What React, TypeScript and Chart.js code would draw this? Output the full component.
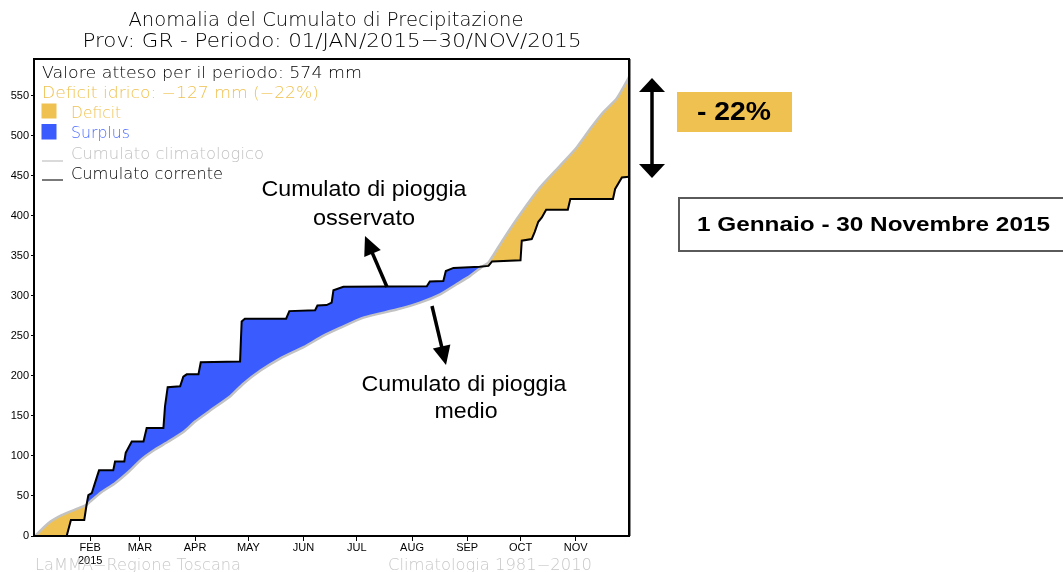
import React, { useEffect, useRef } from 'react';
import { Chart, registerables } from 'chart.js';

Chart.register(...registerables);

// ---- data ----
const monthTickDays = [31, 59, 90, 120, 151, 181, 212, 243, 273, 304];
const monthTickLabels: (string | string[])[] = [['FEB', '2015'], 'MAR', 'APR', 'MAY', 'JUN', 'JUL', 'AUG', 'SEP', 'OCT', 'NOV'];
const yTickValues = [0, 50, 100, 150, 200, 250, 300, 350, 400, 450, 500, 550];

// Cumulato corrente (observed), day of year -> mm
const currentDays = [0, 17.8, 20.2, 27.7, 29, 30, 31.9, 33.7, 36, 44, 45, 50.2, 51, 54.4, 61, 62.8, 72.2, 73.1, 74.6, 81.6, 83.4, 85.3, 91.9, 93.2, 115.3, 116.2, 118, 141.2, 143, 157.5, 158.8, 164, 166.8, 167.8, 173.4, 220.3, 222, 229.6, 231, 235.3, 250, 255, 257, 273, 273.7, 279.3, 281, 283, 285, 287.4, 299.6, 301, 325, 326.2, 330, 334];
const currentValues = [0, 0, 20, 20, 39, 51, 53.5, 66, 82, 82, 93, 93, 104, 118, 118, 135, 135, 162, 186, 187, 199, 202, 202, 217, 218, 268, 271.5, 271.5, 281, 282, 288, 288.5, 291.5, 307, 311.5, 312, 318, 318.5, 331, 335, 336.5, 337.5, 343, 344.6, 369, 371, 380, 392.6, 398, 407.7, 407.7, 421, 421, 433.6, 448, 449];

// Cumulato climatologico (1981-2010), day of year -> mm
const climDays = [0, 7.5, 15, 22.5, 29, 31, 37.5, 45, 52.5, 60, 67.5, 75, 84, 90, 98, 110, 117, 127, 138, 151, 162, 171.5, 184.7, 203.4, 216.5, 227.8, 237, 244.7, 252, 255, 263.4, 272.8, 284, 295.3, 304.7, 312.2, 319.6, 327.2, 333.7, 334];
const climValues = [0, 16, 26, 33, 39, 43, 55, 66, 80, 96, 108, 118, 131, 143, 156, 175, 190, 207, 222, 236, 250, 260, 272.8, 283, 291.6, 302, 314.5, 325, 337.5, 341.7, 371, 402, 435.6, 462.8, 485.8, 508.8, 529.7, 547, 572, 574];

const expectedTotal = 574;
const deficitMm = -127;
const deficitPct = -22;

const GOLD = '#efc150';
const BLUE = '#3a5cff';
const GRAY = '#c2c2c2';
const GRADS_FONT = '"DejaVu Sans"';
const GW = '200';

function fitText(ctx: CanvasRenderingContext2D, text: string, x: number, y: number, width: number, font: string, color: string, align: 'left' | 'center' = 'left') {
  ctx.save();
  ctx.font = font;
  ctx.fillStyle = color;
  ctx.textBaseline = 'middle';
  ctx.textAlign = 'left';
  const w = ctx.measureText(text).width;
  const sx = width / w;
  const left = align === 'center' ? x - width / 2 : x;
  ctx.translate(left, y);
  ctx.scale(sx, 1);
  ctx.fillText(text, 0, 0);
  ctx.restore();
}

function arrowHead(ctx: CanvasRenderingContext2D, tipX: number, tipY: number, fromX: number, fromY: number, len: number, half: number) {
  const ang = Math.atan2(tipY - fromY, tipX - fromX);
  const bx = tipX - len * Math.cos(ang);
  const by = tipY - len * Math.sin(ang);
  const px = -Math.sin(ang) * half;
  const py = Math.cos(ang) * half;
  ctx.beginPath();
  ctx.moveTo(tipX, tipY);
  ctx.lineTo(bx + px, by + py);
  ctx.lineTo(bx - px, by - py);
  ctx.closePath();
  ctx.fill();
}

function arrow(ctx: CanvasRenderingContext2D, x1: number, y1: number, x2: number, y2: number, lw: number, len: number, half: number) {
  ctx.save();
  ctx.strokeStyle = '#000';
  ctx.fillStyle = '#000';
  ctx.lineWidth = lw;
  const ang = Math.atan2(y2 - y1, x2 - x1);
  ctx.beginPath();
  ctx.moveTo(x1, y1);
  ctx.lineTo(x2 - (len - 2) * Math.cos(ang), y2 - (len - 2) * Math.sin(ang));
  ctx.stroke();
  arrowHead(ctx, x2, y2, x1, y1, len, half);
  ctx.restore();
}

const decorPlugin = {
  id: 'decor',
  afterDraw(chart: any) {
    const ctx: CanvasRenderingContext2D = chart.ctx;
    const a = chart.chartArea;

    // plot frame
    ctx.save();
    ctx.strokeStyle = '#000';
    ctx.lineWidth = 2;
    ctx.strokeRect(a.left - 1, a.top, a.right - a.left + 1, a.bottom - a.top);
    ctx.strokeStyle = '#888';
    ctx.lineWidth = 1;
    ctx.beginPath(); ctx.moveTo(a.right + 1.5, a.top); ctx.lineTo(a.right + 1.5, a.bottom); ctx.stroke();
    ctx.restore();

    // title
    fitText(ctx, 'Anomalia del Cumulato di Precipitazione', 326, 21, 395, `${GW} 20px ${GRADS_FONT}`, '#000', 'center');
    fitText(ctx, 'Prov: GR - Periodo: 01/JAN/2015\u221230/NOV/2015', 332, 42, 499, `${GW} 20px ${GRADS_FONT}`, '#000', 'center');

    // legend inside plot
    fitText(ctx, `Valore atteso per il periodo: ${expectedTotal} mm`, 42, 74, 320, `${GW} 15px ${GRADS_FONT}`, '#000');
    fitText(ctx, `Deficit idrico: \u2212${Math.abs(deficitMm)} mm (\u2212${Math.abs(deficitPct)}%)`, 42, 94, 277, `${GW} 15px ${GRADS_FONT}`, GOLD);
    ctx.fillStyle = GOLD;
    ctx.fillRect(41.5, 103.5, 15, 15);
    fitText(ctx, 'Deficit', 71, 114, 50, `${GW} 15px ${GRADS_FONT}`, GOLD);
    ctx.fillStyle = BLUE;
    ctx.fillRect(41.5, 124, 15, 15.5);
    fitText(ctx, 'Surplus', 71, 134, 59, `${GW} 15px ${GRADS_FONT}`, '#4a6aff');
    ctx.save();
    ctx.strokeStyle = GRAY;
    ctx.lineWidth = 1.2;
    ctx.beginPath(); ctx.moveTo(42, 161); ctx.lineTo(63, 161); ctx.stroke();
    ctx.strokeStyle = '#222';
    ctx.beginPath(); ctx.moveTo(42, 180); ctx.lineTo(63, 180); ctx.stroke();
    ctx.restore();
    fitText(ctx, 'Cumulato climatologico', 71, 155, 193, `${GW} 15px ${GRADS_FONT}`, GRAY);
    fitText(ctx, 'Cumulato corrente', 71, 175, 152, `${GW} 15px ${GRADS_FONT}`, '#000');

    // bottom credits
    fitText(ctx, 'LaMMA\u2212Regione Toscana', 35, 566, 206, `${GW} 15px ${GRADS_FONT}`, '#c8c8c8');
    fitText(ctx, 'Climatologia 1981\u22122010', 388, 566, 204, `${GW} 15px ${GRADS_FONT}`, '#c8c8c8');

    // annotations in plot
    const ann = '22px "Liberation Sans"';
    fitText(ctx, 'Cumulato di pioggia', 364, 190, 205, ann, '#000', 'center');
    fitText(ctx, 'osservato', 364, 219, 102, ann, '#000', 'center');
    fitText(ctx, 'Cumulato di pioggia', 464, 385, 205, ann, '#000', 'center');
    fitText(ctx, 'medio', 466, 412, 63, ann, '#000', 'center');
    arrow(ctx, 387, 287, 365, 236, 3.5, 19, 9);
    arrow(ctx, 432, 306, 446, 365, 3.5, 19, 9);

    // right side annotations
    ctx.save();
    ctx.strokeStyle = '#000';
    ctx.fillStyle = '#000';
    ctx.lineWidth = 3.5;
    ctx.beginPath(); ctx.moveTo(652, 90); ctx.lineTo(652, 166); ctx.stroke();
    arrowHead(ctx, 652, 78, 652, 120, 14, 13);
    arrowHead(ctx, 652, 178, 652, 120, 14, 13);
    ctx.fillStyle = GOLD;
    ctx.fillRect(677, 92, 115, 40);
    ctx.restore();
    fitText(ctx, `- ${Math.abs(deficitPct)}%`, 734, 113, 74, 'bold 26px "Liberation Sans"', '#000', 'center');

    ctx.save();
    ctx.fillStyle = '#fff';
    ctx.fillRect(679, 198, 390, 53);
    ctx.strokeStyle = '#5a5a5a';
    ctx.lineWidth = 2;
    ctx.strokeRect(679, 198, 390, 53);
    ctx.restore();
    fitText(ctx, '1 Gennaio - 30 Novembre 2015', 697, 225, 353, 'bold 21px "Liberation Sans"', '#000');
  },
};

export default function App() {
  const ref = useRef<HTMLCanvasElement | null>(null);
  useEffect(() => {
    const canvas = ref.current;
    if (!canvas) return;
    const chart = new Chart(canvas, {
      type: 'line',
      data: {
        datasets: [
          {
            label: 'Cumulato corrente',
            data: currentDays.map((d, i) => ({ x: d, y: currentValues[i] })),
            borderColor: '#000',
            borderWidth: 2,
            pointRadius: 0,
            tension: 0,
            fill: { target: 1, above: BLUE, below: GOLD },
          },
          {
            label: 'Cumulato climatologico',
            data: climDays.map((d, i) => ({ x: d, y: climValues[i] })),
            borderColor: GRAY,
            borderWidth: 2.5,
            pointRadius: 0,
            tension: 0.2,
            fill: false,
          },
        ],
      } as any,
      options: {
        responsive: false,
        animation: false,
        layout: { padding: { left: 0, right: 434, top: 59, bottom: 0 }, autoPadding: false },
        plugins: {
          legend: { display: false },
          title: { display: false },
          tooltip: { enabled: false },
          filler: { drawTime: 'beforeDatasetsDraw' },
        },
        scales: {
          x: {
            type: 'linear',
            min: 0,
            max: 334,
            afterBuildTicks: (s: any) => { s.ticks = monthTickDays.map((v) => ({ value: v })); },
            afterFit: (s: any) => { s.height = 36; },
            ticks: {
              callback: (_v: any, i: number) => monthTickLabels[i],
              font: { family: 'Liberation Sans', size: 11 },
              color: '#000',
              maxRotation: 0,
              autoSkip: false,
              padding: 0,
            },
            grid: { drawOnChartArea: false, tickLength: 5, color: '#000', tickColor: '#000' },
            border: { display: false },
          },
          y: {
            min: 0,
            max: 596,
            afterBuildTicks: (s: any) => { s.ticks = yTickValues.map((v) => ({ value: v })); },
            afterFit: (s: any) => { s.width = 35; },
            ticks: {
              font: { family: 'Liberation Sans', size: 11 },
              color: '#000',
              padding: 2,
            },
            grid: { drawOnChartArea: false, tickLength: 4, color: '#000', tickColor: '#000' },
            border: { display: false },
          },
        },
      } as any,
      plugins: [decorPlugin],
    });
    return () => chart.destroy();
  }, []);

  return (
    <div style={{ position: 'absolute', left: 0, top: 0, width: 1063, height: 572, background: '#fff' }}>
      <canvas ref={ref} width={1063} height={572} style={{ display: 'block', width: 1063, height: 572 }} />
    </div>
  );
}
